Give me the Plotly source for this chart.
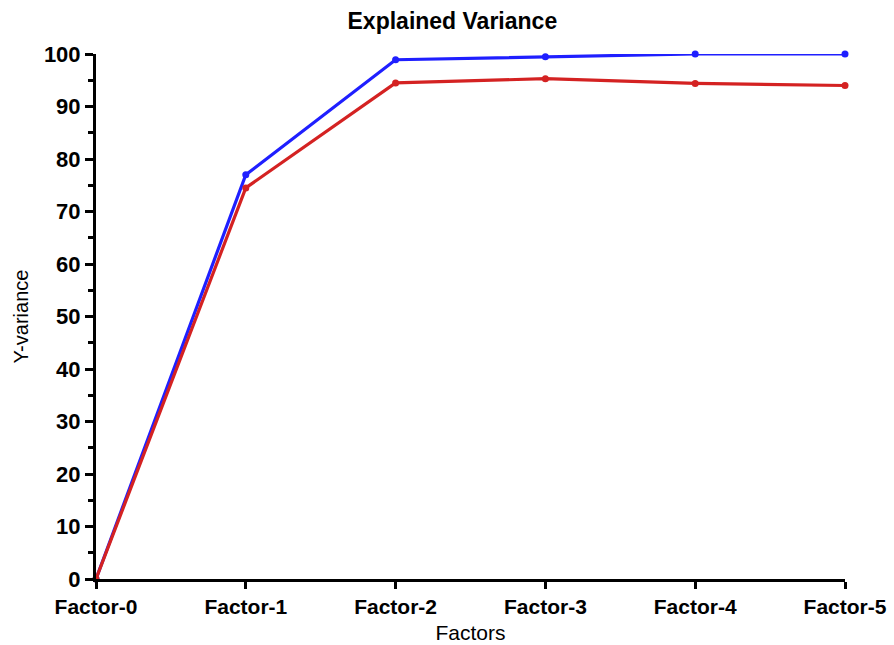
import plotly.graph_objects as go

factors = ["Factor-0", "Factor-1", "Factor-2", "Factor-3", "Factor-4", "Factor-5"]
blue_vals = [0, 77.0, 98.9, 99.5, 100.0, 100.0]
red_vals = [0, 74.5, 94.5, 95.3, 94.4, 94.0]
y_ticks = [0, 10, 20, 30, 40, 50, 60, 70, 80, 90, 100]

fig = go.Figure()
fig.add_trace(go.Scatter(x=list(range(len(factors))), y=blue_vals, mode="lines+markers",
                         line=dict(color="#1f1fff", width=3.2), marker=dict(size=7, color="#1f1fff"),
                         cliponaxis=False, showlegend=False))
fig.add_trace(go.Scatter(x=list(range(len(factors))), y=red_vals, mode="lines+markers",
                         line=dict(color="#d42222", width=3.2), marker=dict(size=7, color="#d42222"),
                         cliponaxis=False, showlegend=False))

font_family = "Liberation Sans, Arial, sans-serif"
fig.update_layout(
    width=894, height=645,
    margin=dict(l=96, r=49, t=54, b=66),
    paper_bgcolor="white", plot_bgcolor="white",
    title=dict(text="<b>Explained Variance</b>", x=0.506, xanchor="center", y=0.968, yanchor="middle",
               font=dict(family=font_family, size=23, color="black")),
    font=dict(family=font_family, color="black"),
)
fig.update_xaxes(
    range=[0, 5], tickmode="array", tickvals=list(range(len(factors))),
    ticktext=["<b>%s</b>" % f for f in factors], automargin=False,
    showgrid=False, zeroline=False, showline=True, linecolor="black", linewidth=3,
    ticks="outside", ticklen=7, tickwidth=3, tickcolor="black",
    tickfont=dict(family=font_family, size=21, color="black"),
    title=dict(text="Factors", font=dict(family=font_family, size=21, color="black"), standoff=9),
)
fig.update_yaxes(
    range=[0, 100], tickmode="array", tickvals=y_ticks,
    ticktext=["<b>%d</b>" % v for v in y_ticks], automargin=False,
    showgrid=False, zeroline=False, showline=True, linecolor="black", linewidth=3,
    ticks="outside", ticklen=8, tickwidth=3, tickcolor="black",
    minor=dict(ticks="outside", ticklen=5, tickwidth=3, tickcolor="black", dtick=5, showgrid=False),
    tickfont=dict(family=font_family, size=22, color="black"),
    title=dict(text="Y-variance", font=dict(family=font_family, size=20, color="black"), standoff=10),
)
fig.write_html("out.html")
